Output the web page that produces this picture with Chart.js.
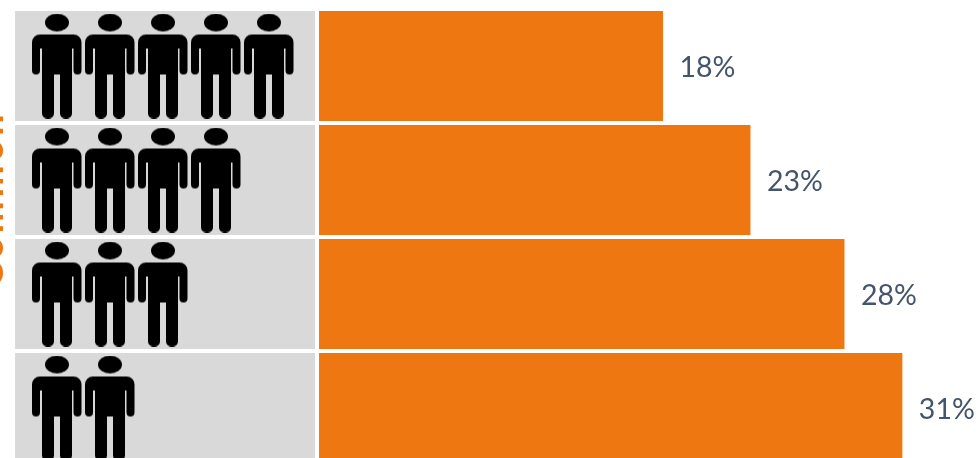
<!DOCTYPE html>
<html>
<head>
<meta charset="utf-8">
<script src="https://cdn.jsdelivr.net/npm/chart.js@4"></script>
<style>
  html, body { margin: 0; padding: 0; background: #fff; overflow: hidden; }
  canvas { display: block; }
</style>
</head>
<body>
<canvas id="myChart" width="977" height="465"></canvas>
<script>
var categories = ['Row 1', 'Row 2', 'Row 3', 'Row 4'];
var shares = [18.3, 22.95, 27.95, 31.03];
var peopleCounts = [5, 4, 3, 2];
var panelRange = [-16.17, -0.21];
var sideTitle = 'Common';

// one black figure, reused as the point style of the people dataset
function makePerson() {
    var c = document.createElement('canvas');
    c.width = 50;
    c.height = 105;
    var g = c.getContext('2d');
    g.fillStyle = '#000';
    g.beginPath();
    g.ellipse(25, 9, 12, 9, 0, 0, Math.PI * 2);
    g.fill();
    g.beginPath();
    g.roundRect(0, 21, 49.5, 14, [8, 8, 0, 0]);
    g.roundRect(0, 25, 8, 36, 4);
    g.roundRect(41.5, 25, 8, 36, 4);
    g.rect(10, 25, 30, 36);
    g.roundRect(10, 50, 12, 55, 5);
    g.roundRect(28, 50, 12, 55, 5);
    g.fill();
    return c;
}

var peoplePoints = [];
peopleCounts.forEach(function (n, row) {
    for (var i = 0; i < n; i++) {
        peoplePoints.push({ x: i + 0.5, y: categories[row] });
    }
});

var labelPlugin = {
    id: 'labelPlugin',
    afterDatasetsDraw: function (chart) {
        var g = chart.ctx;
        var bars = chart.getDatasetMeta(1).data;
        g.save();
        g.font = '28.5px Lato';
        g.fillStyle = '#44546A';
        g.textBaseline = 'middle';
        bars.forEach(function (bar, i) {
            g.fillText(Math.round(shares[i]) + '%', bar.x + 16.5, bar.y + 2);
        });
        // rotated axis title, mostly cut off by the left edge of the page
        g.translate(3, 199);
        g.rotate(-Math.PI / 2);
        g.font = 'bold 38px Lato';
        g.letterSpacing = '4px';
        g.fillStyle = '#EE7712';
        g.textAlign = 'center';
        g.textBaseline = 'alphabetic';
        g.fillText(sideTitle, 0, 0);
        g.restore();
    }
};

var ctx = document.getElementById('myChart').getContext('2d');
var myChart = new Chart(ctx, {
    type: 'bar',
    data: {
        labels: categories,
        datasets: [{
            type: 'scatter',
            data: peoplePoints,
            xAxisID: 'xp',
            yAxisID: 'y',
            pointStyle: makePerson(),
            pointRadius: 5,
            pointHoverRadius: 5,
            clip: false,
            order: 0
        }, {
            indexAxis: 'y',
            data: shares,
            backgroundColor: '#EE7712',
            xAxisID: 'x',
            yAxisID: 'y',
            grouped: false,
            barPercentage: 110 / 114,
            categoryPercentage: 1,
            order: 1
        }, {
            indexAxis: 'y',
            data: categories.map(function () { return panelRange; }),
            backgroundColor: '#D9D9D9',
            xAxisID: 'x',
            yAxisID: 'y',
            grouped: false,
            barPercentage: 110 / 114,
            categoryPercentage: 1,
            order: 2
        }]
    },
    options: {
        responsive: false,
        animation: false,
        layout: { autoPadding: false, padding: { top: 9 } },
        plugins: { legend: { display: false }, tooltip: { enabled: false } },
        events: [],
        scales: {
            x: { type: 'linear', display: false, offset: false, min: -16.97, max: 35 },
            xp: { type: 'linear', axis: 'x', display: false, offset: false, min: -0.575, max: 17.86 },
            y: { type: 'category', display: false, offset: true }
        }
    },
    plugins: [labelPlugin]
});
</script>
</body>
</html>
